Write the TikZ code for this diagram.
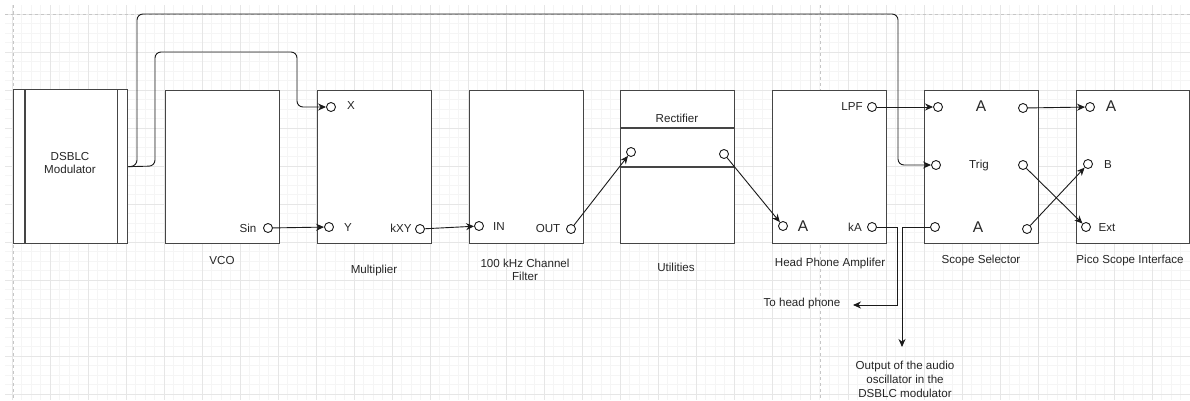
\documentclass[tikz,border=0pt]{standalone}
\usepackage{fontspec}
\setmainfont{Liberation Sans}
\usetikzlibrary{arrows.meta}
\definecolor{minorgrid}{HTML}{F5F5F5}
\definecolor{majorgrid}{HTML}{E6E6E6}
\definecolor{pageline}{HTML}{C6C6C6}
\definecolor{boxline}{HTML}{454545}
\definecolor{wirecol}{HTML}{1A1A1A}
\tikzset{
  box/.style={draw=boxline, line width=1.3pt, fill=white, minimum width=114pt, minimum height=153pt, inner sep=0pt, anchor=north west},
  port/.style={circle, draw=wirecol, fill=white, line width=0.9pt, minimum size=9pt, inner sep=0pt},
  lbl/.style={font=\fontsize{11.6}{13.5}\selectfont, inner sep=0pt, text=black!85, align=center},
  biglbl/.style={font=\fontsize{15.5}{17}\selectfont, inner sep=0pt, text=black!85},
  wire/.style={draw=wirecol, line width=0.9pt},
  conn/.style={wire, -{Stealth[length=8pt,width=7pt]}},
  pagedash/.style={draw=pageline, line width=1pt, dash pattern=on 3pt off 3pt},
}
\begin{document}
\begin{tikzpicture}[x=1pt,y=-1pt]
\useasboundingbox (0,0) rectangle (1190,400);
\fill[white] (0,0) rectangle (1190,400);
% grid
\foreach \i in {0,...,124} {\draw[minorgrid, line width=0.6pt] ({12+9.5*\i},5) -- ({12+9.5*\i},400);}
\foreach \j in {0,...,40} {\draw[minorgrid, line width=0.6pt] (5,{14+9.5*\j}) -- (1190,{14+9.5*\j});}
\foreach \i in {0,...,31} {\draw[majorgrid, line width=0.8pt] ({12+38*\i},5) -- ({12+38*\i},400);}
\foreach \j in {0,...,10} {\draw[majorgrid, line width=0.8pt] (5,{14+38*\j}) -- (1190,{14+38*\j});}
% page lines
\draw[pagedash] (5,14) -- (1190,14);
\draw[pagedash] (13,5) -- (13,400);
\draw[pagedash] (820,5) -- (820,400);

% boxes
\node[box, minimum height=154pt] (dsblc) at (13,89) {};
\draw[boxline, line width=1.3pt] ([xshift=12pt]dsblc.north west) -- ([xshift=12pt]dsblc.south west);
\draw[boxline, line width=1.3pt] ([xshift=-11pt]dsblc.north east) -- ([xshift=-11pt]dsblc.south east);
\node[lbl] (dsblct) at (70,163) {DSBLC\\Modulator};

\node[box] (vco) at (165,90) {};
\node[box] (mult) at (317,90) {};
\node[box] (filt) at (469,90) {};
\node[box] (util) at (620,90) {};
\draw[boxline, line width=1.3pt] ([yshift=-38pt]util.north west) -- ([yshift=-38pt]util.north east);
\draw[boxline, line width=1.3pt] ([yshift=-77pt]util.north west) -- ([yshift=-77pt]util.north east);
\node[box] (hpa) at (772,90) {};
\node[box] (ss) at (924,90) {};
\node[box, minimum width=113pt] (pico) at (1076,90) {};

% captions
\node[lbl] (vcot) at (222,260) {VCO};
\node[lbl] (multt) at (374,270) {Multiplier};
\node[lbl] (filtt) at (525,270) {100 kHz Channel\\Filter};
\node[lbl] (utilt) at (676,267) {Utilities};
\node[lbl] (rectt) at (677,118) {Rectifier};
\node[lbl] (hpat) at (830,263) {Head Phone Amplifer};
\node[lbl] (sst) at (981,260) {Scope Selector};
\node[lbl] (picot) at (1130,260) {Pico Scope Interface};

% ports
\node[port] (sin) at (268,228) {};
\node[lbl] (sint) at (248,228) {Sin};
\node[port] (mx) at (331,107) {};
\node[lbl] (mxt) at (351,106) {X};
\node[port] (my) at (329,227) {};
\node[lbl] (myt) at (348,228) {Y};
\node[port] (kxy) at (420,229) {};
\node[lbl] (kxyt) at (401,228) {kXY};
\node[port] (fin) at (479,226) {};
\node[lbl] (fint) at (499,227) {IN};
\node[port] (fout) at (571,229) {};
\node[lbl] (foutt) at (548,228) {OUT};
\node[port] (rin) at (631,152) {};
\node[port] (rout) at (724,154) {};
\node[port] (ha) at (783,226) {};
\node[biglbl] (hat) at (803,226) {A};
\node[port] (lpf) at (872,107) {};
\node[lbl] (lpft) at (852,107) {LPF};
\node[port] (ka) at (872,227) {};
\node[lbl] (kat) at (855,227) {kA};
\node[port] (ssain) at (938,107) {};
\node[biglbl] (ssat) at (981,106) {A};
\node[port] (sstin) at (936,165) {};
\node[lbl] (sstt) at (979,165) {Trig};
\node[port] (ssa2in) at (935,227) {};
\node[biglbl] (ssa2t) at (978,227) {A};
\node[port] (ssaout) at (1023,108) {};
\node[port] (sstout) at (1023,165) {};
\node[port] (ssa2out) at (1027,229) {};
\node[port] (pa) at (1090,107) {};
\node[biglbl] (pat) at (1111,106) {A};
\node[port] (pb) at (1088,164) {};
\node[lbl] (pbt) at (1108,165) {B};
\node[port] (pext) at (1086,227) {};
\node[lbl] (pextt) at (1107,228) {Ext};

% free texts
\node[lbl] (tohp) at (802,303) {To head phone};
\node[lbl, font=\fontsize{11.6}{14}\selectfont] (outt) at (905,379) {Output of the audio\\oscillator in the\\DSBLC modulator};
\coordinate (hpend) at (853,305);
\coordinate (outend) at (902,347);

% connectors
\draw[conn, rounded corners=6pt] (dsblc.east) -- (137,166) -- (137,14) -- (898,14) -- (898,165) -- (sstin);
\draw[conn, rounded corners=6pt] (dsblc.east) -- (155,166) -- (155,52) -- (297,52) -- (297,107) -- (mx);
\draw[conn] (sin) -- (my);
\draw[conn] (kxy) -- (fin);
\draw[conn] (fout) -- (rin);
\draw[conn] (rout) -- (ha);
\draw[conn] (lpf) -- (ssain);
\draw[conn] (ssaout) -- (pa);
\draw[conn] (sstout) -- (pext);
\draw[conn] (ssa2out) -- (pb);
\draw[conn] (ka) -- (897,227) -- (897,305) -- (hpend);
\draw[conn] (ssa2in) -- (902,227) -- (outend);
\end{tikzpicture}
\end{document}
